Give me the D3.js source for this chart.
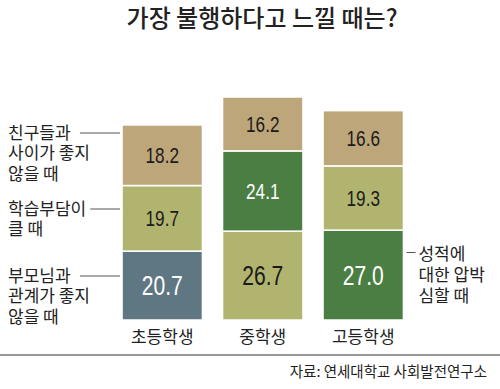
<!DOCTYPE html>
<html>
<head>
<meta charset="utf-8">
<script src="https://cdn.jsdelivr.net/npm/d3@7"></script>
<style>
  body { margin: 0; background: #fff; }
  svg { display: block; }
</style>
</head>
<body>
<div id="chart"></div>
<script>
const width = 500;
const height = 389;

// data
const grades = ["초등학생", "중학생", "고등학생"];
const causes = ["부모님", "성적", "학습부담", "친구"];
// stack order bottom -> top for each grade
const elementary = [["부모님", 20.7], ["학습부담", 19.7], ["친구", 18.2]];
const middle = [["학습부담", 26.7], ["성적", 24.1], ["친구", 16.2]];
const high = [["성적", 27.0], ["학습부담", 19.3], ["친구", 16.6]];
const stacks = [elementary, middle, high];

const causeColors = ["#5f7783", "#4b7e43", "#b1b46f", "#bea67b"];
const leftLabels = [
  ["친구들과", "사이가 좋지", "않을 때"],
  ["학습부담이", "클 때"],
  ["부모님과", "관계가 좋지", "않을 때"]
];
const rightLabel = ["성적에", "대한 압박", "심할 때"];

const kr = "'Noto Sans CJK KR', 'Noto Sans', sans-serif";
const num = "'Liberation Sans', Arial, sans-serif";

const svg = d3.select('#chart')
  .append('svg')
  .attr('width', width)
  .attr('height', height);

var x = d3.scaleBand().domain(grades).range([112, 413.5]).paddingInner(0.2).paddingOuter(0.1);
var y = d3.scaleLinear().domain([0, 67]).range([320, 97]);
var color = d3.scaleOrdinal().domain(causes).range(causeColors);

// title
svg.append("text")
  .attr("x", 262)
  .attr("y", 27)
  .attr("text-anchor", "middle")
  .style("font-family", kr)
  .style("font-size", "24px")
  .style("font-weight", 500)
  .attr("fill", "#222")
  .text("가장 불행하다고 느낄 때는?");

// build segments
var segs = [];
stacks.forEach(function(s, i) {
  var acc = 0;
  s.forEach(function(d, j) {
    segs.push({grade: grades[i], cause: d[0], value: d[1], y0: acc, y1: acc + d[1], idx: j});
    acc += d[1];
  });
});

svg.selectAll("rect.seg")
  .data(segs)
  .enter()
  .append("rect")
  .attr("class", "seg")
  .attr("x", function(d) { return x(d.grade); })
  .attr("y", function(d) { return y(d.y1); })
  .attr("width", x.bandwidth())
  .attr("height", function(d) { return y(d.y0) - y(d.y1); })
  .attr("fill", function(d) { return color(d.cause); })
  .attr("stroke", "#fff")
  .attr("stroke-width", 1.5);

// values, squeezed to look like the condensed figures of the original
svg.selectAll("text.val")
  .data(segs)
  .enter()
  .append("text")
  .attr("class", "val")
  .attr("transform", function(d) {
    var cx = x(d.grade) + x.bandwidth() / 2;
    var cy = (y(d.y0) + y(d.y1)) / 2;
    return "translate(" + cx + "," + cy + ") scale(0.78,1)";
  })
  .attr("dy", "0.36em")
  .attr("text-anchor", "middle")
  .style("font-family", num)
  .style("font-size", function(d) { return d.idx == 0 ? "27px" : "22px"; })
  .attr("fill", function(d) { return (d.cause == "부모님" || d.cause == "성적") ? "#fff" : "#1a1a1a"; })
  .text(function(d) { return d.value.toFixed(1); });

// grade labels
svg.selectAll("text.grade")
  .data(grades)
  .enter()
  .append("text")
  .attr("class", "grade")
  .attr("x", function(d) { return x(d) + x.bandwidth() / 2; })
  .attr("y", 343)
  .attr("text-anchor", "middle")
  .style("font-family", kr)
  .style("font-size", "17px")
  .attr("fill", "#222")
  .text(function(d) { return d; });

// left labels, next to the first bar
var labelTops = [133, 209, 276];
leftLabels.forEach(function(lines, i) {
  var g = svg.append("g");
  var first;
  lines.forEach(function(t, k) {
    var tx = g.append("text")
      .attr("x", 8)
      .attr("y", labelTops[i] + k * 20.3)
      .attr("dy", "0.36em")
      .style("font-family", kr)
      .style("font-size", "17px")
      .attr("fill", "#222")
      .text(t);
    if (k == 0) first = tx;
  });
  var endX = 8 + first.node().getComputedTextLength();
  g.append("line")
    .attr("x1", Math.max(endX + 4, 80))
    .attr("x2", x(grades[0]) - 2)
    .attr("y1", labelTops[i])
    .attr("y2", labelTops[i])
    .attr("stroke", "#555")
    .attr("stroke-width", 1);
});

// right label
var rx = x(grades[2]) + x.bandwidth();
rightLabel.forEach(function(t, k) {
  svg.append("text")
    .attr("x", rx + 15)
    .attr("y", 253.5 + k * 21)
    .attr("dy", "0.36em")
    .style("font-family", kr)
    .style("font-size", "17px")
    .attr("fill", "#222")
    .text(t);
});
svg.append("line")
  .attr("x1", rx + 3)
  .attr("x2", rx + 12)
  .attr("y1", 252.5)
  .attr("y2", 252.5)
  .attr("stroke", "#555")
  .attr("stroke-width", 1);

// bottom rule
svg.append("line")
  .attr("x1", 0)
  .attr("x2", width)
  .attr("y1", 355)
  .attr("y2", 355)
  .attr("stroke", "#777")
  .attr("stroke-width", 1.5);

// source
svg.append("text")
  .attr("x", 487)
  .attr("y", 377)
  .attr("text-anchor", "end")
  .style("font-family", kr)
  .style("font-size", "14.5px")
  .attr("fill", "#222")
  .text("자료: 연세대학교 사회발전연구소");
</script>
</body>
</html>
